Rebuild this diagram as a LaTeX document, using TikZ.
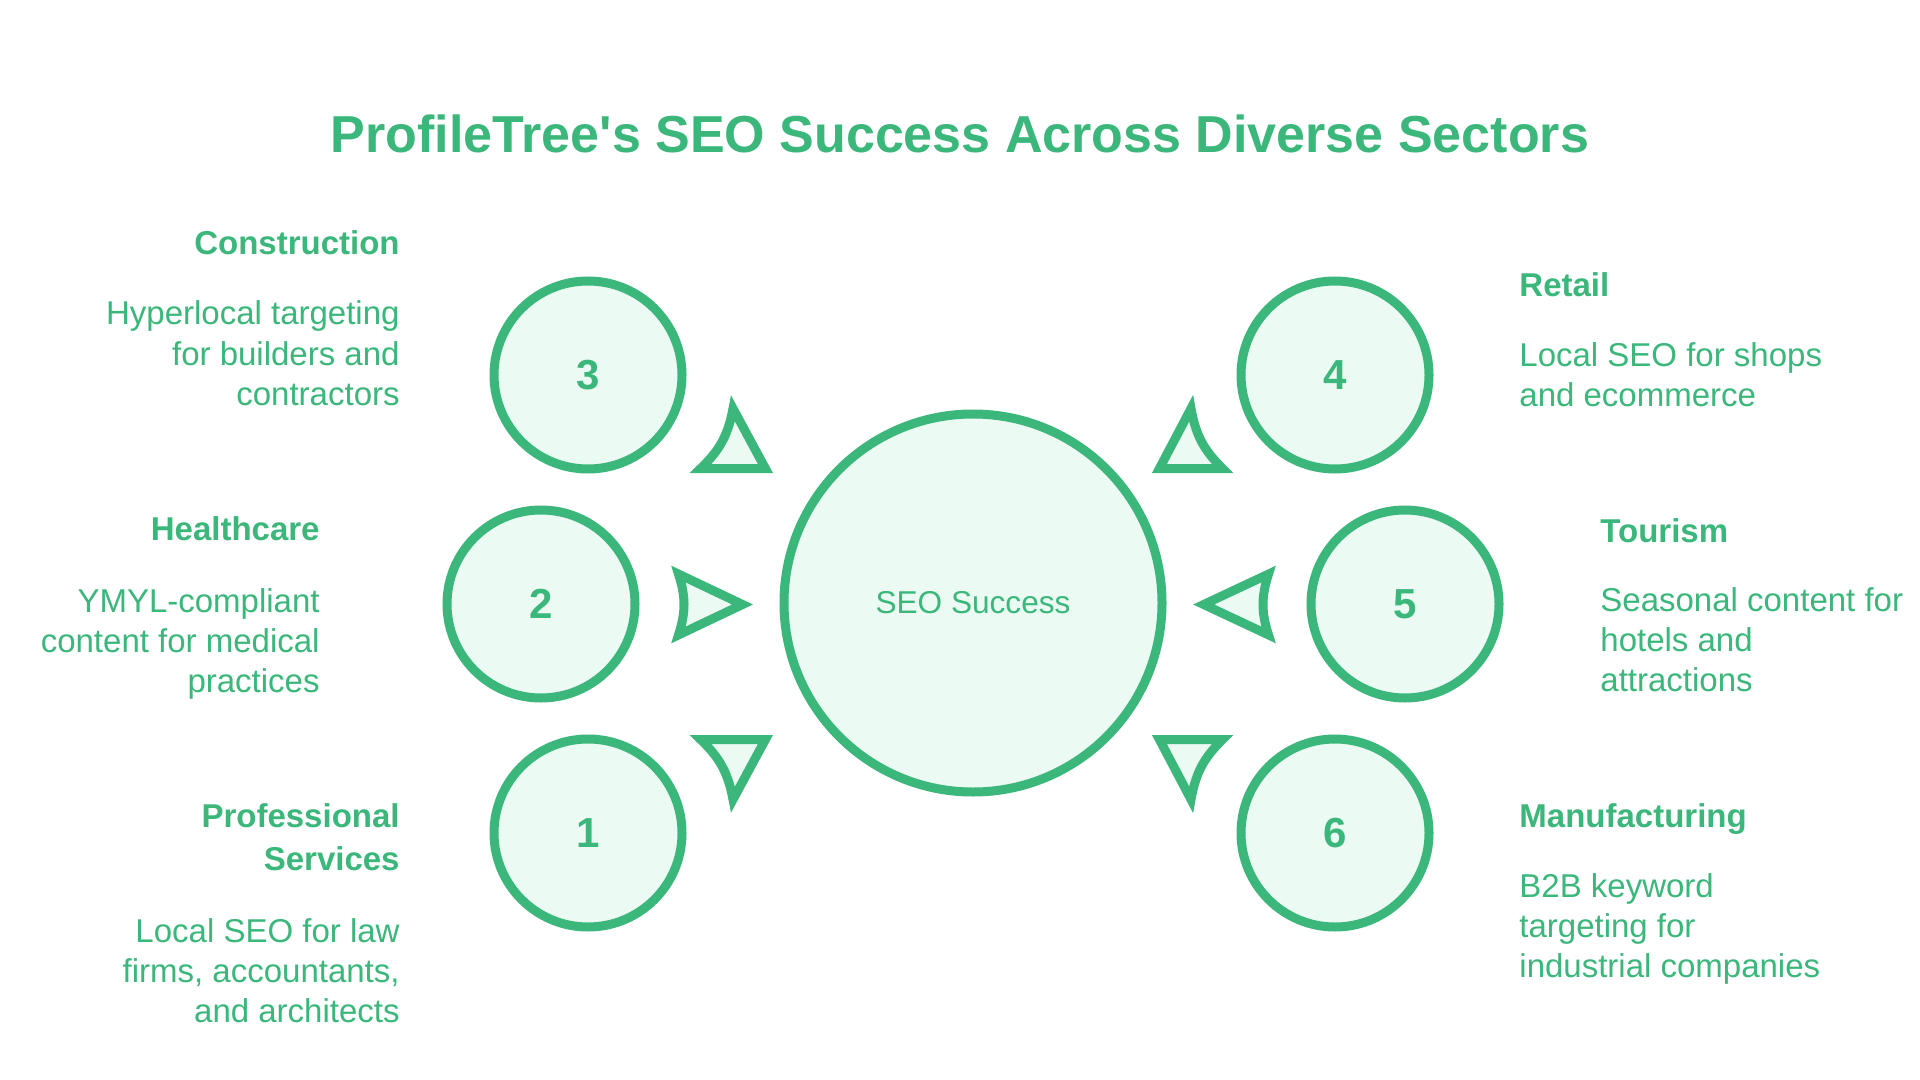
\documentclass[tikz,border=0pt]{standalone}
\usepackage{fontspec}
\setmainfont{Liberation Sans}
\usetikzlibrary{positioning}
\definecolor{leaf}{HTML}{3BB77B}
\definecolor{mint}{HTML}{EBFAF2}

\begin{document}
\begin{tikzpicture}[
    x=0.5pt, y=-0.5pt,
    sector/.style={
      circle,
      draw=leaf,
      fill=mint,
      line width=4.5pt,
      minimum size=94pt,
      inner sep=0pt,
      text=leaf,
      font=\fontsize{21}{21}\selectfont\bfseries,
    },
    hub/.style={
      sector,
      minimum size=189pt,
      font=\fontsize{15.8}{16}\selectfont,
    },
    heading/.style={
      text=leaf,
      inner sep=0pt,
      font=\fontsize{16.5}{21.5}\selectfont\bfseries,
    },
    blurb/.style={
      text=leaf,
      inner sep=0pt,
      font=\fontsize{16.5}{20}\selectfont,
    },
    pointer/.style={
      draw=leaf,
      fill=mint,
      line width=4.5pt,
      line join=miter,
    },
    ]
    \useasboundingbox (0,0) rectangle (1920,1080);
    \fill[white] (0,0) rectangle (1920,1080);

    \node[text=leaf, font=\fontsize{26}{26}\selectfont\bfseries, anchor=base] (title) at (960,153)
      {ProfileTree\textquotesingle s SEO Success Across Diverse Sectors};

    % circles
    \node[hub] (hub) at (973,603) {SEO Success};
    \node[sector] (num3) at (588,375) {3};
    \node[sector] (num2) at (541,604) {2};
    \node[sector] (num1) at (588,833) {1};
    \node[sector] (num4) at (1335,375) {4};
    \node[sector] (num5) at (1405,604) {5};
    \node[sector] (num6) at (1335,833) {6};

    % pointers round the hub
    \draw[pointer] (733,408.5) to[bend left=18] (700.6,468.5) -- (765.4,468.5) -- cycle;
    \draw[pointer] (678.5,574.1) to[bend left=18] (678.5,634.9) -- (742.5,604.5) -- cycle;
    \draw[pointer] (733,799.5) to[bend right=18] (700.6,739.5) -- (765.4,739.5) -- cycle;
    \draw[pointer] (1191,408.5) to[bend right=18] (1222.6,468.5) -- (1159.4,468.5) -- cycle;
    \draw[pointer] (1268.5,574.1) to[bend right=18] (1268.5,634.9) -- (1203.7,604.5) -- cycle;
    \draw[pointer] (1191,799.5) to[bend left=18] (1222.6,739.5) -- (1159.4,739.5) -- cycle;

    % left column
    \node[heading, anchor=base east] (construction) at (400,255) {Construction};
    \node[blurb, align=right, anchor=base east] (constructiontxt) at ([yshift=-75pt]construction.base east) {
      Hyperlocal targeting \\ for builders and \\ contractors
    };
    \node[heading, anchor=base east] (healthcare) at (320,540) {Healthcare};
    \node[blurb, align=right, anchor=base east] (healthcaretxt) at ([yshift=-76pt]healthcare.base east) {
      YMYL-compliant \\ content for medical \\ practices
    };
    \node[heading, align=right, anchor=base east] (services) at (400,870) {Professional \\ Services};
    \node[blurb, align=right, anchor=base east] (servicestxt) at ([yshift=-76pt]services.base east) {
      Local SEO for law \\ firms, accountants, \\ and architects
    };

    % right column
    \node[heading, anchor=base west] (retail) at (1519,297) {Retail};
    \node[blurb, align=left, anchor=base west] (retailtxt) at ([yshift=-54.5pt]retail.base west) {
      Local SEO for shops \\ and ecommerce
    };
    \node[heading, anchor=base west] (tourism) at (1600,542) {Tourism};
    \node[blurb, align=left, anchor=base west] (tourismtxt) at ([yshift=-74.5pt]tourism.base west) {
      Seasonal content for \\ hotels and \\ attractions
    };
    \node[heading, anchor=base west] (manufacturing) at (1519,827) {Manufacturing};
    \node[blurb, align=left, anchor=base west] (manufacturingtxt) at ([yshift=-75pt]manufacturing.base west) {
      B2B keyword \\ targeting for \\ industrial companies
    };
  \end{tikzpicture}
\end{document}
